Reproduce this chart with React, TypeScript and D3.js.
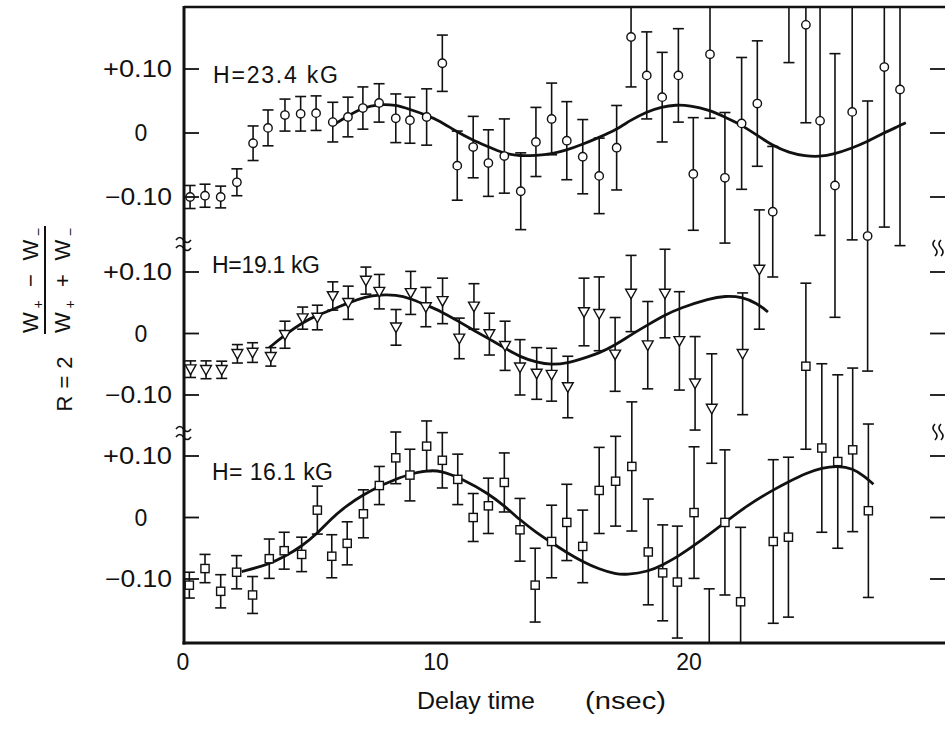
import React from 'react';
import * as d3 from 'd3';

// ---------- data ----------
const yTickValues = [0.1, 0, -0.1];
const yTickLabels = ['+0.10', '0', '\u22120.10'];
const xTickValues = [0, 10, 20];
const xTickLabels = ['0', '10', '20'];
const panelLabels = ['H=23.4 kG', 'H=19.1 kG', 'H= 16.1 kG'];
const xTitleA = 'Delay time';
const xTitleB = '(nsec)';

// H = 23.4 kG (circles)
const t1 = [0.28,0.87,1.49,2.13,2.77,3.36,4.03,4.65,5.26,5.92,6.52,7.11,7.75,8.41,8.97,9.63,10.25,10.84,11.47,12.07,12.70,13.35,13.95,14.57,15.17,15.80,16.45,17.14,17.71,18.33,18.94,19.58,20.17,20.83,21.42,22.08,22.70,23.31,23.95,24.62,25.18,25.77,26.45,27.06,27.72,28.34];
const v1 = [-0.100,-0.098,-0.100,-0.077,-0.016,0.008,0.028,0.030,0.031,0.017,0.025,0.039,0.047,0.023,0.020,0.025,0.109,-0.051,-0.022,-0.047,-0.036,-0.091,-0.014,0.022,-0.012,-0.037,-0.067,-0.023,0.150,0.090,0.056,0.090,-0.064,0.123,-0.070,0.015,0.046,-0.123,0.220,0.169,0.019,-0.082,0.033,-0.161,0.103,0.068];
const e1 = [0.018,0.018,0.017,0.021,0.027,0.028,0.025,0.027,0.027,0.031,0.031,0.033,0.030,0.038,0.036,0.044,0.044,0.054,0.048,0.052,0.058,0.060,0.054,0.056,0.061,0.058,0.059,0.066,0.078,0.068,0.070,0.073,0.088,0.100,0.102,0.103,0.098,0.102,0.110,0.153,0.179,0.206,0.200,0.211,0.250,0.244];
const fitT1 = [6.00,6.53,7.12,7.75,8.40,8.96,9.62,10.15,10.81,11.45,12.04,12.67,13.33,13.94,14.56,15.15,15.78,16.44,17.12,17.69,18.31,18.92,19.49,20.02,20.81,21.40,22.06,22.67,23.28,23.96,24.60,25.15,25.74,26.42,27.03,27.69,28.31,28.57];
const fitV1 = [0.014,0.027,0.040,0.045,0.044,0.037,0.028,0.019,0.002,-0.011,-0.021,-0.032,-0.036,-0.035,-0.033,-0.027,-0.018,-0.007,0.005,0.020,0.033,0.041,0.044,0.043,0.036,0.025,0.013,-0.003,-0.019,-0.031,-0.036,-0.037,-0.033,-0.024,-0.014,0.000,0.011,0.016];

// H = 19.1 kG (triangles)
const t2 = [0.30,0.91,1.53,2.15,2.75,3.47,4.03,4.73,5.31,5.92,6.53,7.23,7.76,8.42,9.00,9.60,10.26,10.92,11.50,12.11,12.73,13.32,13.98,14.57,15.21,15.85,16.45,17.08,17.71,18.37,19.05,19.62,20.24,20.90,22.12,22.78];
const v2 = [-0.058,-0.059,-0.059,-0.033,-0.031,-0.038,-0.002,0.025,0.026,0.061,0.050,0.086,0.068,0.010,0.066,0.043,0.053,-0.008,0.044,-0.001,-0.020,-0.055,-0.065,-0.067,-0.087,0.035,0.032,-0.034,0.065,-0.019,0.065,-0.012,-0.081,-0.122,-0.033,0.104];
const e2 = [0.0135,0.0145,0.014,0.015,0.016,0.015,0.022,0.018,0.020,0.023,0.027,0.022,0.028,0.029,0.035,0.032,0.037,0.033,0.037,0.034,0.040,0.045,0.042,0.043,0.050,0.055,0.060,0.060,0.062,0.071,0.072,0.080,0.076,0.089,0.099,0.097];
const fitT2 = [3.41,4.03,4.73,5.31,5.92,6.53,7.23,7.76,8.42,9.00,9.60,10.16,10.92,11.50,12.11,12.73,13.32,13.98,14.57,15.21,15.85,16.45,17.08,17.71,18.37,19.05,19.62,20.83,21.42,22.08,22.70,23.12];
const fitV2 = [-0.023,-0.002,0.018,0.030,0.039,0.050,0.060,0.063,0.063,0.057,0.046,0.037,0.019,0.005,-0.009,-0.024,-0.038,-0.047,-0.051,-0.048,-0.040,-0.032,-0.019,-0.002,0.014,0.030,0.041,0.057,0.061,0.060,0.049,0.035];

// H = 16.1 kG (squares)
const t3 = [0.25,0.87,1.49,2.12,2.75,3.41,4.00,4.69,5.31,5.88,6.49,7.13,7.76,8.41,8.97,9.63,10.25,10.86,11.47,12.07,12.70,13.32,13.92,14.57,15.17,15.80,16.45,17.10,17.74,18.39,18.96,19.54,20.20,20.80,21.42,22.04,23.33,23.93,24.62,25.25,25.88,26.47,27.09];
const v3 = [-0.110,-0.083,-0.120,-0.089,-0.126,-0.067,-0.054,-0.060,0.012,-0.063,-0.042,0.006,0.052,0.097,0.069,0.116,0.093,0.062,0.000,0.019,0.057,-0.020,-0.110,-0.039,-0.008,-0.047,0.044,0.059,0.083,-0.056,-0.090,-0.105,0.008,-0.217,-0.008,-0.137,-0.039,-0.032,0.246,0.113,0.091,0.110,0.011];
const e3 = [0.021,0.023,0.027,0.027,0.030,0.032,0.030,0.028,0.039,0.035,0.035,0.039,0.031,0.042,0.042,0.041,0.045,0.041,0.039,0.045,0.048,0.051,0.060,0.059,0.062,0.059,0.070,0.073,0.105,0.086,0.078,0.091,0.107,0.101,0.118,0.121,0.133,0.130,0.135,0.137,0.141,0.133,0.141];
const fitT3 = [2.32,3.41,4.00,4.69,5.31,5.88,6.49,7.13,7.76,8.41,8.97,9.63,10.16,11.08,12.07,12.70,13.32,13.92,14.57,15.17,15.80,16.45,17.10,17.53,18.39,18.96,19.54,20.20,21.42,22.28,23.33,23.93,24.62,25.25,25.88,26.47,26.96,27.29];
const fitV3 = [-0.088,-0.076,-0.064,-0.047,-0.026,-0.001,0.020,0.037,0.051,0.062,0.071,0.076,0.077,0.062,0.039,0.019,-0.004,-0.023,-0.041,-0.057,-0.072,-0.084,-0.092,-0.093,-0.088,-0.077,-0.064,-0.046,-0.008,0.019,0.045,0.058,0.072,0.081,0.084,0.080,0.066,0.054];

// ---------- layout ----------
const W = 945, H = 729;
const LEFT = 184, RIGHT = 946, TOP = 7, BOTTOM = 643;
const INK = '#111';
const FONT = '"Liberation Sans", Arial, sans-serif';

function tildeH(x0: number, cy: number, w: number, a: number) {
  return `M${x0},${cy} Q${x0 + w / 4},${cy - a} ${x0 + w / 2},${cy} T${x0 + w},${cy}`;
}
function tildeV(cx: number, y0: number, h: number, a: number) {
  return `M${cx},${y0} Q${cx - a},${y0 + h / 4} ${cx},${y0 + h / 2} T${cx},${y0 + h}`;
}

export default function App() {
  const x = d3.scaleLinear().domain([0, 30]).range([183, 942]);
  const panels = [
    { t: t1, v: v1, e: e1, ft: fitT1, fv: fitV1, y: d3.scaleLinear().domain([-0.1, 0.1]).range([197, 69]), marker: 'circle', label: panelLabels[0], lx: 213, ly: 83, lw: 125 },
    { t: t2, v: v2, e: e2, ft: fitT2, fv: fitV2, y: d3.scaleLinear().domain([-0.1, 0.1]).range([395, 272]), marker: 'triangle', label: panelLabels[1], lx: 212, ly: 273, lw: 108 },
    { t: t3, v: v3, e: e3, ft: fitT3, fv: fitV3, y: d3.scaleLinear().domain([-0.1, 0.1]).range([579, 456]), marker: 'square', label: panelLabels[2], lx: 212, ly: 480, lw: 121 },
  ];

  const marker = (kind: string, cx: number, cy: number, key: string) => {
    if (kind === 'circle') return <circle key={key} cx={cx} cy={cy} r={4.2} fill="#fff" stroke={INK} strokeWidth={1.4} />;
    if (kind === 'triangle') return <path key={key} d={`M${cx - 5.4},${cy - 4.3} L${cx + 5.4},${cy - 4.3} L${cx},${cy + 5.3} Z`} fill="#fff" stroke={INK} strokeWidth={1.4} strokeLinejoin="miter" />;
    return <rect key={key} x={cx - 4.1} y={cy - 4.1} width={8.2} height={8.2} fill="#fff" stroke={INK} strokeWidth={1.4} />;
  };

  return (
    <svg width={W} height={H} style={{ position: 'absolute', left: 0, top: 0, background: '#fff' }} fontFamily={FONT}>
      <defs>
        <clipPath id="plotclip">
          <rect x={LEFT} y={TOP} width={RIGHT - LEFT} height={BOTTOM - TOP} />
        </clipPath>
      </defs>
      <rect x={0} y={0} width={W} height={H} fill="#fff" />

      {/* data */}
      <g clipPath="url(#plotclip)">
        {panels.map((p, pi) => {
          const line = d3.line<number>()
            .x((_, i) => x(p.ft[i]))
            .y((d) => p.y(d))
            .curve(d3.curveBasis);
          return (
            <g key={pi}>
              <path d={line(p.fv) || ''} fill="none" stroke={INK} strokeWidth={2.8} />
              {p.t.map((tv, i) => {
                const cx = x(tv);
                const y0 = p.y(p.v[i] + p.e[i]);
                const y1 = p.y(p.v[i] - p.e[i]);
                return (
                  <g key={i} stroke={INK} strokeWidth={1.6}>
                    <line x1={cx} x2={cx} y1={y0} y2={y1} />
                    <line x1={cx - 5.5} x2={cx + 5.5} y1={y0} y2={y0} />
                    <line x1={cx - 5.5} x2={cx + 5.5} y1={y1} y2={y1} />
                  </g>
                );
              })}
              {p.t.map((tv, i) => marker(p.marker, x(tv), p.y(p.v[i]), `m${i}`))}
            </g>
          );
        })}
      </g>

      {/* frame (right edge lies just outside the picture) */}
      <line x1={LEFT} x2={LEFT} y1={TOP - 1} y2={BOTTOM + 1.5} stroke={INK} strokeWidth={3} />
      <line x1={LEFT} x2={RIGHT + 4} y1={TOP} y2={TOP} stroke={INK} strokeWidth={2.5} />
      <line x1={LEFT - 1.5} x2={RIGHT + 4} y1={BOTTOM} y2={BOTTOM} stroke={INK} strokeWidth={3} />
      <line x1={RIGHT + 2} x2={RIGHT + 2} y1={TOP} y2={BOTTOM} stroke={INK} strokeWidth={2.5} />

      {/* y ticks and labels */}
      {panels.map((p, pi) => (
        <g key={`yt${pi}`}>
          {yTickValues.map((tv, i) => {
            const yy = p.y(tv);
            const lab = yTickLabels[i];
            return (
              <g key={i}>
                <line x1={LEFT} x2={LEFT + 15} y1={yy} y2={yy} stroke={INK} strokeWidth={1.8} />
                <line x1={RIGHT - 16} x2={RIGHT} y1={yy} y2={yy} stroke={INK} strokeWidth={1.8} />
                {lab === '0' ? (
                  <text x={141} y={yy + 8} fontSize={23} textAnchor="middle" fill={INK}>{lab}</text>
                ) : (
                  <text x={lab.startsWith('+') ? 103 : 105} y={yy + 8} fontSize={23} textLength={lab.startsWith('+') ? 69 : 67} lengthAdjust="spacingAndGlyphs" fill={INK}>{lab}</text>
                )}
              </g>
            );
          })}
          <text x={p.lx} y={p.ly} fontSize={23} textLength={p.lw} lengthAdjust="spacing" fill={INK}>{p.label}</text>
        </g>
      ))}

      {/* axis breaks */}
      <g fill="none" stroke={INK} strokeWidth={1.6}>
        <path d={tildeH(176, 240, 15, 5)} />
        <path d={tildeH(176, 248, 15, 5)} />
        <path d={tildeH(176, 429, 15, 5)} />
        <path d={tildeH(176, 437, 15, 5)} />
        <path d={tildeV(935, 240, 16, 4)} />
        <path d={tildeV(941, 240, 16, 4)} />
        <path d={tildeV(935, 424, 16, 4)} />
        <path d={tildeV(941, 424, 16, 4)} />
      </g>

      {/* x tick labels and title */}
      {xTickValues.map((tv, i) => (
        <text key={`xt${i}`} x={x(tv)} y={670} fontSize={23} textAnchor="middle" fill={INK}>{xTickLabels[i]}</text>
      ))}
      <text x={417} y={709} fontSize={23} textLength={118} lengthAdjust="spacingAndGlyphs" fill={INK}>{xTitleA}</text>
      <text x={585} y={709} fontSize={23} textLength={81} lengthAdjust="spacingAndGlyphs" fill={INK}>{xTitleB}</text>

      {/* y axis title */}
      <g transform="rotate(-90)" fill={INK}>
        <text x={-384} y={72} fontSize={22} textAnchor="middle" textLength={55} lengthAdjust="spacing">R=2</text>
        <text x={-333} y={38} fontSize={22} textLength={105} lengthAdjust="spacing">
          W<tspan fontSize={14} dy={5}>+</tspan><tspan dy={-5}> {'\u2212'} W</tspan><tspan fontSize={14} dy={5}>{'\u2212'}</tspan>
        </text>
        <line x1={-334} x2={-226} y1={45} y2={45} stroke={INK} strokeWidth={2} />
        <text x={-333} y={70} fontSize={22} textLength={105} lengthAdjust="spacing">
          W<tspan fontSize={14} dy={5}>+</tspan><tspan dy={-5}> + W</tspan><tspan fontSize={14} dy={5}>{'\u2212'}</tspan>
        </text>
      </g>
    </svg>
  );
}
